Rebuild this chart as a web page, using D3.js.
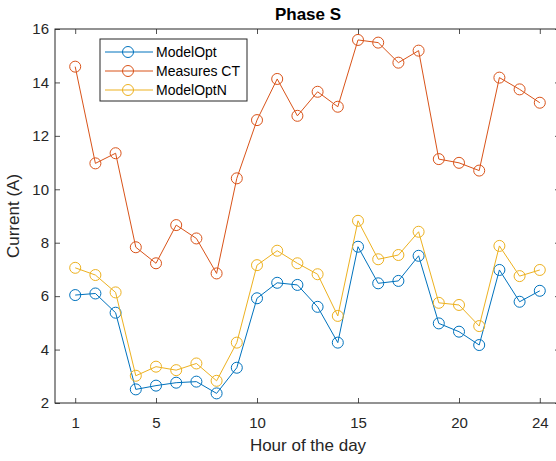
<!DOCTYPE html>
<html>
<head>
<meta charset="utf-8">
<script src="https://d3js.org/d3.v7.min.js"></script>
<style>
  body { margin: 0; background: #fff; }
  text { font-family: "Liberation Sans", Arial, sans-serif; }
</style>
</head>
<body>
<div id="chart"></div>
<script>
// horas do dia
var horas = d3.range(1, 25);
var modelOpt = [6.04, 6.10, 5.38, 2.51, 2.65, 2.76, 2.80, 2.36, 3.32, 5.92, 6.50, 6.42,
                5.60, 4.26, 7.85, 6.48, 6.57, 7.51, 4.98, 4.67, 4.17, 6.98, 5.79, 6.20];
var measuresCT = [14.59, 10.97, 11.35, 7.83, 7.23, 8.66, 8.16, 6.85, 10.41, 12.59, 14.13, 12.75,
                  13.65, 13.09, 15.59, 15.49, 14.74, 15.19, 11.13, 10.99, 10.70, 14.18, 13.74, 13.24];
var modelOptN = [7.06, 6.79, 6.14, 3.02, 3.36, 3.23, 3.48, 2.83, 4.26, 7.16, 7.70, 7.23,
                 6.82, 5.26, 8.82, 7.38, 7.54, 8.41, 5.75, 5.67, 4.88, 7.88, 6.75, 6.98];
var xTicks = [1, 5, 10, 15, 20, 24];
var yTicks = [2, 4, 6, 8, 10, 12, 14, 16];
var series = [
  {nome: 'ModelOpt', cor: '#0072BD', valores: modelOpt},
  {nome: 'Measures CT', cor: '#D95319', valores: measuresCT},
  {nome: 'ModelOptN', cor: '#EDB120', valores: modelOptN}
];

var largura = 556, altura = 461;
var margin = {top: 29, right: -4, bottom: 58, left: 55};
var w = largura - margin.left - margin.right,
    h = altura - margin.top - margin.bottom;

var svg = d3.select('#chart').append('svg')
    .attr('width', largura)
    .attr('height', altura);
var g = svg.append('g')
    .attr('transform', 'translate(' + margin.left + ',' + margin.top + ')');

var x = d3.scaleLinear().domain([0, 25]).range([0, w]);
var y = d3.scaleLinear().domain([2, 16]).range([h, 0]);

var corEixo = '#262626';

// eixos (ticks para dentro, estilo matlab)
function estilo(sel) {
  sel.select('.domain').remove();
  sel.selectAll('line').attr('stroke', corEixo).attr('stroke-width', 0.8);
  sel.selectAll('text').attr('fill', corEixo).style('font-size', '15px');
}
g.append('g').attr('transform', 'translate(0,' + h + ')')
  .call(d3.axisBottom(x).tickValues(xTicks).tickSizeInner(-5).tickSizeOuter(0).tickPadding(14))
  .call(estilo);
g.append('g')
  .call(d3.axisTop(x).tickValues(xTicks).tickSizeInner(-5).tickSizeOuter(0).tickFormat(''))
  .call(estilo);
g.append('g')
  .call(d3.axisLeft(y).tickValues(yTicks).tickSizeInner(-5).tickSizeOuter(0).tickPadding(6))
  .call(estilo);
g.append('g').attr('transform', 'translate(' + w + ',0)')
  .call(d3.axisRight(y).tickValues(yTicks).tickSizeInner(-5).tickSizeOuter(0).tickFormat(''))
  .call(estilo);

g.append('rect')
  .attr('width', w).attr('height', h)
  .attr('fill', 'none').attr('stroke', corEixo).attr('stroke-width', 1);

// linhas e marcadores
var linha = d3.line()
  .x(function(d, i) { return x(horas[i]); })
  .y(function(d) { return y(d); });

series.forEach(function(s) {
  g.append('path')
    .datum(s.valores)
    .attr('fill', 'none')
    .attr('stroke', s.cor)
    .attr('stroke-width', 1)
    .attr('d', linha);
  g.selectAll(null)
    .data(s.valores)
    .enter().append('circle')
      .attr('cx', function(d, i) { return x(horas[i]); })
      .attr('cy', function(d) { return y(d); })
      .attr('r', 5.5)
      .attr('fill', 'none')
      .attr('stroke', s.cor)
      .attr('stroke-width', 1);
});

// legenda
var leg = svg.append('g').attr('transform', 'translate(100,39)');
leg.append('rect')
  .attr('width', 147).attr('height', 62)
  .attr('fill', '#fff').attr('stroke', corEixo).attr('stroke-width', 1);
var item = leg.selectAll('.item')
  .data(series)
  .enter().append('g')
    .attr('class', 'item')
    .attr('transform', function(d, i) { return 'translate(0,' + (13 + i * 19) + ')'; });
item.append('line')
  .attr('x1', 5).attr('x2', 53)
  .attr('stroke', function(d) { return d.cor; })
  .attr('stroke-width', 1);
item.append('circle')
  .attr('cx', 28).attr('r', 5.5)
  .attr('fill', 'none')
  .attr('stroke', function(d) { return d.cor; });
item.append('text')
  .attr('x', 56).attr('dy', '0.35em')
  .style('font-size', '14px')
  .attr('fill', '#000')
  .text(function(d) { return d.nome; });

// titulo e rotulos
svg.append('text')
  .attr('x', 308).attr('y', 20)
  .attr('text-anchor', 'middle')
  .style('font-size', '17px').style('font-weight', 'bold')
  .attr('fill', '#000')
  .text('Phase S');
svg.append('text')
  .attr('x', 308).attr('y', 451)
  .attr('text-anchor', 'middle')
  .style('font-size', '17px')
  .attr('fill', corEixo)
  .text('Hour of the day');
svg.append('text')
  .attr('transform', 'translate(19,' + (margin.top + h / 2) + ') rotate(-90)')
  .attr('text-anchor', 'middle')
  .style('font-size', '17px')
  .attr('fill', corEixo)
  .text('Current (A)');
</script>
</body>
</html>
